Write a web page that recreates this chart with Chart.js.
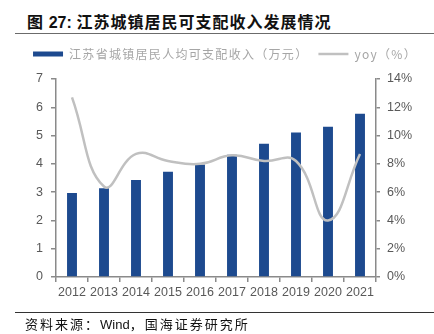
<!DOCTYPE html>
<html>
<head>
<meta charset="utf-8">
<script src="https://cdn.jsdelivr.net/npm/chart.js@4.4.1/dist/chart.umd.min.js"></script>
<style>
  html, body { margin: 0; padding: 0; background: #fff; }
  #wrap { position: relative; width: 434px; height: 334px; overflow: hidden; }
  #title {
    position: absolute; left: 27px; top: 10px;
    font-family: "Noto Sans CJK SC", "Liberation Sans", sans-serif;
    font-size: 16px; font-weight: bold; color: #111; white-space: nowrap; line-height: 22px;
    letter-spacing: 1px;
  }
  #title .num { font-family: "Liberation Sans", Arial, sans-serif; letter-spacing: 0; }
  #rule-top { position: absolute; left: 15px; right: 0; top: 33px; height: 0; border-top: 1.5px solid #6b6b6b; }
  #rule-bottom { position: absolute; left: 15px; right: 0; top: 312px; height: 0; border-top: 1px solid #333; }
  #source {
    position: absolute; left: 25px; top: 315px;
    font-family: "Noto Sans CJK SC", sans-serif; font-size: 13px; color: #111;
    letter-spacing: 2px; white-space: nowrap; line-height: 18px;
  }
  #source .lat { font-family: "Liberation Sans", Arial, sans-serif; letter-spacing: 0; }
  #chartBox { position: absolute; left: 0; top: 0; width: 434px; height: 334px; }
</style>
</head>
<body>
<div id="wrap">
  <div id="title">图 <span class="num">27:</span> 江苏城镇居民可支配收入发展情况</div>
  <div id="rule-top"></div>
  <div id="chartBox"><canvas id="c" width="434" height="334"></canvas></div>
  <div id="rule-bottom"></div>
  <div id="source">资料来源：<span class="lat">Wind</span>，国海证券研究所</div>
</div>
<script>
// Years on the category axis
const years = ['2012', '2013', '2014', '2015', '2016', '2017', '2018', '2019', '2020', '2021'];
// Per-capita disposable income of urban residents, 10k yuan
const income = [2.97, 3.14, 3.43, 3.72, 3.98, 4.32, 4.71, 5.11, 5.31, 5.77];
// Year-on-year growth, %
const yoy = [12.7, 6.4, 8.7, 8.2, 8.0, 8.6, 8.2, 8.2, 4.0, 8.7];
// Series names shown in the legend
const incomeLabel = '江苏省城镇居民人均可支配收入（万元）';
const yoyLabel = 'yoy（%）';

const axisGrey = '#8a8a8a';
const tickGrey = '#595959';

// Legend tweaks: wider letter spacing for its text, a small shift right and extra room below it
const legendStyle = {
  id: 'legendStyle',
  afterInit(chart) {
    const lg = chart.legend;
    if (!lg) return;
    const fit = lg.fit.bind(lg);
    const draw = lg.draw.bind(lg);
    lg.fit = function () {
      const ctx = chart.ctx;
      const prev = ctx.letterSpacing;
      ctx.letterSpacing = '1.3px';
      fit();
      ctx.letterSpacing = prev || '0px';
      this.height += 9;
    };
    lg.draw = function () {
      const ctx = chart.ctx;
      ctx.save();
      ctx.translate(8, 0);
      ctx.letterSpacing = '1.3px';
      draw();
      ctx.restore();
      ctx.letterSpacing = '0px';
    };
  }
};

new Chart(document.getElementById('c'), {
  data: {
    labels: years,
    datasets: [
      {
        type: 'bar',
        label: incomeLabel,
        data: income,
        yAxisID: 'y',
        backgroundColor: '#1d4a8f',
        borderWidth: 0,
        barPercentage: 0.31,
        categoryPercentage: 1.0,
        pointStyle: 'rect',
        order: 1
      },
      {
        type: 'line',
        label: yoyLabel,
        data: yoy,
        yAxisID: 'y1',
        borderColor: '#c0c0c0',
        backgroundColor: '#c0c0c0',
        borderWidth: 2.5,
        pointRadius: 0,
        tension: 0.45,
        fill: false,
        pointStyle: 'line',
        order: 0
      }
    ]
  },
  plugins: [legendStyle],
  options: {
    responsive: false,
    animation: false,
    devicePixelRatio: 1,
    layout: { padding: { top: 38, left: 0, right: 0, bottom: 0 } },
    plugins: {
      tooltip: { enabled: false },
      legend: {
        position: 'top',
        labels: {
          usePointStyle: true,
          pointStyleWidth: 30,
          boxHeight: 5,
          padding: 10,
          color: '#a6a6a6',
          font: { family: '"Noto Sans CJK SC", sans-serif', size: 12 },
          sort: (a, b) => a.datasetIndex - b.datasetIndex
        }
      }
    },
    scales: {
      x: {
        offset: true,
        grid: { offset: true, drawOnChartArea: false, drawTicks: true, tickLength: 5, color: axisGrey, lineWidth: 1.5 },
        border: { display: true, color: axisGrey, width: 1.5 },
        ticks: { color: tickGrey, padding: 3, maxRotation: 0, font: { family: '"Liberation Sans", Arial, sans-serif', size: 12.5 } },
        afterFit: (s) => { s.height = 57; }
      },
      y: {
        position: 'left',
        min: 0, max: 7,
        ticks: { stepSize: 1, color: tickGrey, padding: 8, font: { family: '"Liberation Sans", Arial, sans-serif', size: 12.5 } },
        grid: { drawOnChartArea: false, drawTicks: true, tickLength: 5, color: axisGrey, lineWidth: 1.5 },
        border: { display: true, color: axisGrey, width: 1.5 },
        afterFit: (s) => { s.width = 56; }
      },
      y1: {
        position: 'right',
        min: 0, max: 14,
        ticks: { stepSize: 2, color: tickGrey, padding: 7, callback: (v) => v + '%', font: { family: '"Liberation Sans", Arial, sans-serif', size: 12.5 } },
        grid: { drawOnChartArea: false, drawTicks: true, tickLength: 4, color: axisGrey, lineWidth: 1.5 },
        border: { display: true, color: axisGrey, width: 1.5 },
        afterFit: (s) => { s.width = 58; }
      }
    }
  }
});
</script>
</body>
</html>
